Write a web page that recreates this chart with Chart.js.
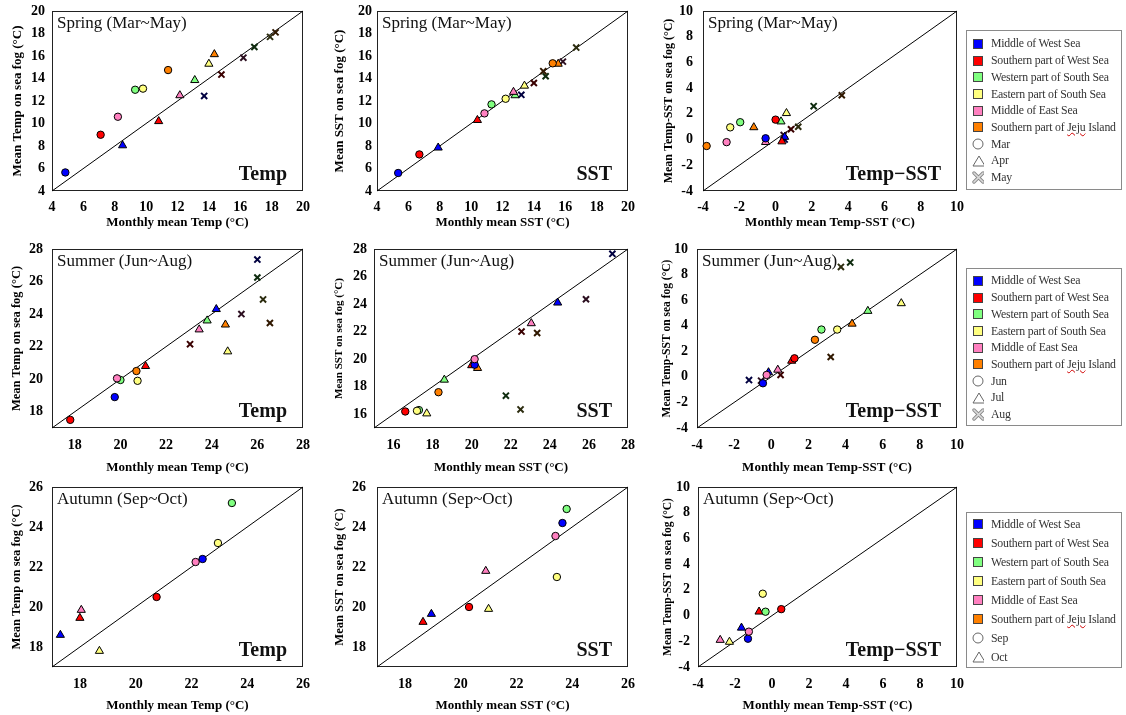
<!DOCTYPE html>
<html>
<head>
<meta charset="utf-8">
<script src="https://cdn.jsdelivr.net/npm/chart.js@4.4.1/dist/chart.umd.min.js"></script>
<style>
  body { margin: 0; width: 1126px; height: 715px; background: #fff; position: relative; overflow: hidden; }
  canvas.panel { position: absolute; }
  .legend { position: absolute; left: 966px; width: 156px; border: 1px solid #8a8a8a; box-sizing: border-box;
    font-family: 'Times New Roman', 'Liberation Serif', serif; font-size: 11.8px; color: #333; }
  .legend .row { display: flex; align-items: center; white-space: nowrap; letter-spacing: -0.2px; }
  .legend .sym { width: 12px; height: 12px; margin: 0 7px 0 5px; flex: none; display: flex; align-items: center; justify-content: center; }
  .legend .sq { width: 10px; height: 10px; border: 1px solid #444; box-sizing: border-box; }
  .legend .typo { text-decoration: underline wavy #d00000; text-decoration-thickness: 1px; }
</style>
</head>
<body>
<div id="charts"></div>
<div class="legend" id="legend-spring" style="top:30px;height:160px;padding-top:4.6px"></div>
<div class="legend" id="legend-summer" style="top:268px;height:158px;padding-top:3.6px"></div>
<div class="legend" id="legend-autumn" style="top:512px;height:156px;padding-top:1.5px"></div>
<script>
const SERIF = "'Times New Roman', 'Liberation Serif', serif";

const REGIONS = ['Middle of West Sea', 'Southern part of West Sea', 'Western part of South Sea',
  'Eastern part of South Sea', 'Middle of East Sea', 'Southern part of Jeju Island'];
const REGION_FILL = ['#0000ff', '#ff0000', '#80ff80', '#ffff80', '#ff80c0', '#ff8000'];
const REGION_CROSS = ['#000040', '#3a0000', '#0f2c0f', '#2c2c0f', '#2c0f20', '#301800'];
const MONTH_STYLE = ['circle', 'triangle', 'crossRot'];

const SPRING_MONTHS = ['Mar', 'Apr', 'May'];
const SUMMER_MONTHS = ['Jun', 'Jul', 'Aug'];
const AUTUMN_MONTHS = ['Sep', 'Oct'];

// axis ranges and tick labels
const springRange = [4, 20];
const springTicks = [4, 6, 8, 10, 12, 14, 16, 18, 20];
const diffRange = [-4, 10];
const diffTicks = [-4, -2, 0, 2, 4, 6, 8, 10];
const summerTempRange = [17, 28];
const summerTempTicks = [18, 20, 22, 24, 26, 28];
const summerSstRange = [15, 28];
const summerSstTicks = [16, 18, 20, 22, 24, 26, 28];
const autumnRange = [17, 26];
const autumnTicks = [18, 20, 22, 24, 26];

// [monthly mean, mean on sea fog] per region, REGIONS order; null = no case
const springTempMar = [[4.85, 5.65], [7.1, 9.0], [9.3, 13.0], [9.8, 13.1], [8.2, 10.6], [11.4, 14.75]];
const springTempApr = [[8.5, 8.05], [10.8, 10.2], [13.1, 13.85], [14.0, 15.3], [12.15, 12.5], [14.35, 16.15]];
const springTempMay = [[13.7, 12.45], [14.8, 14.35], [16.9, 16.8], [17.9, 17.7], [16.2, 15.85], [18.25, 18.1]];

const springSstMar = [[5.35, 5.6], [6.7, 7.25], [11.3, 11.7], [12.2, 12.2], [10.85, 10.9], [15.2, 15.35]];
const springSstApr = [[7.9, 7.85], [10.4, 10.3], [12.8, 12.5], [13.4, 13.35], [12.7, 12.8], [15.55, 15.3]];
const springSstMay = [[13.2, 12.55], [14.0, 13.6], [14.75, 14.2], [16.7, 16.75], [15.85, 15.5], [14.6, 14.65]];

const springDiffMar = [[-0.55, 0.1], [0.0, 1.55], [-1.95, 1.35], [-2.5, 0.95], [-2.7, -0.2], [-3.8, -0.5]];
const springDiffApr = [[0.5, 0.2], [0.35, -0.15], [0.3, 1.4], [0.6, 2.05], [-0.55, -0.2], [-1.2, 0.95]];
const springDiffMay = [[0.5, 0.0], [0.85, 0.8], [2.1, 2.6], [1.25, 1.0], [0.45, 0.35], [3.65, 3.45]];

const summerTempJun = [[19.75, 18.9], [17.8, 17.5], [20.0, 19.95], [20.75, 19.9], [19.85, 20.05], [20.7, 20.5]];
const summerTempJul = [[24.2, 24.3], [21.1, 20.8], [23.8, 23.6], [24.7, 21.7], [23.45, 23.05], [24.6, 23.35]];
const summerTempAug = [[26.0, 27.35], [23.05, 22.15], [26.0, 26.25], [26.25, 24.9], [25.3, 24.0], [26.55, 23.45]];

const summerSstJun = [[20.15, 19.6], [16.6, 16.2], [17.3, 16.3], [17.2, 16.25], [20.15, 20.0], [18.3, 17.6]];
const summerSstJul = [[24.4, 24.1], [20.0, 19.55], [18.6, 18.5], [17.7, 16.05], [23.05, 22.6], [20.3, 19.35]];
const summerSstAug = [[27.2, 27.65], [22.55, 22.0], [21.75, 17.35], [22.5, 16.35], [25.85, 24.35], [23.35, 21.9]];

const summerDiffJun = [[-0.45, -0.5], [1.25, 1.45], [2.7, 3.7], [3.55, 3.7], [-0.25, 0.15], [2.35, 2.9]];
const summerDiffJul = [[-0.15, 0.35], [1.1, 1.25], [5.2, 5.15], [7.0, 5.75], [0.35, 0.55], [4.35, 4.15]];
const summerDiffAug = [[-1.2, -0.25], [0.5, 0.15], [4.25, 8.95], [3.75, 8.6], [-0.55, -0.3], [3.2, 1.55]];

const autumnTempSep = [[22.4, 22.4], [20.75, 20.5], [23.45, 25.2], [22.95, 23.2], [22.15, 22.25], null];
const autumnTempOct = [[17.3, 18.6], [18.0, 19.45], null, [18.7, 17.8], [18.05, 19.85], null];

const autumnSstSep = [[23.65, 24.2], [20.3, 20.0], [23.8, 24.9], [23.45, 21.5], [23.4, 23.55], null];
const autumnSstOct = [[18.95, 19.65], [18.65, 19.25], null, [21.0, 19.9], [20.9, 21.8], null];

const autumnDiffSep = [[-1.3, -1.8], [0.5, 0.5], [-0.35, 0.3], [-0.5, 1.7], [-1.25, -1.25], null];
const autumnDiffOct = [[-1.65, -0.95], [-0.7, 0.3], null, [-2.3, -2.05], [-2.8, -1.9], null];

const X_TITLES = ['Monthly mean Temp (°C)', 'Monthly mean SST (°C)', 'Monthly mean Temp-SST (°C)'];
const Y_TITLES = ['Mean Temp on sea fog (°C)', 'Mean SST on sea fog (°C)', 'Mean Temp-SST on sea fog (°C)'];
const TAGS = ['Temp', 'SST', 'Temp\u2212SST'];
const SEASONS = ['Spring (Mar~May)', 'Summer (Jun~Aug)', 'Autumn (Sep~Oct)'];

// layout of each panel: plot box [left, top, right, bottom] in page pixels
const PANELS = [
  { row: 0, col: 0, sets: [springTempMar, springTempApr, springTempMay], range: springRange, ticks: springTicks,
    plot: [52, 11, 303, 191], yTitleX: 17.5, yTitleSize: 13, yTickRight: 45 },
  { row: 0, col: 1, sets: [springSstMar, springSstApr, springSstMay], range: springRange, ticks: springTicks,
    plot: [377, 11, 628, 191], yTitleX: 340, yTitleSize: 13, yTickRight: 372 },
  { row: 0, col: 2, sets: [springDiffMar, springDiffApr, springDiffMay], range: diffRange, ticks: diffTicks,
    plot: [703, 11, 957, 191], yTitleX: 669, yTitleSize: 12, yTickRight: 693 },
  { row: 1, col: 0, sets: [summerTempJun, summerTempJul, summerTempAug], range: summerTempRange, ticks: summerTempTicks,
    plot: [52, 249, 303, 428], yTitleX: 17, yTitleSize: 12.5, yTickRight: 43 },
  { row: 1, col: 1, sets: [summerSstJun, summerSstJul, summerSstAug], range: summerSstRange, ticks: summerSstTicks,
    plot: [374, 249, 628, 428], yTitleX: 339, yTitleSize: 11, yTickRight: 367 },
  { row: 1, col: 2, sets: [summerDiffJun, summerDiffJul, summerDiffAug], range: diffRange, ticks: diffTicks,
    plot: [697, 249, 957, 428], yTitleX: 667, yTitleSize: 11.5, yTickRight: 688 },
  { row: 2, col: 0, sets: [autumnTempSep, autumnTempOct], range: autumnRange, ticks: autumnTicks,
    plot: [52, 487, 303, 667], yTitleX: 17, yTitleSize: 12.5, yTickRight: 43 },
  { row: 2, col: 1, sets: [autumnSstSep, autumnSstOct], range: autumnRange, ticks: autumnTicks,
    plot: [377, 487, 628, 667], yTitleX: 340, yTitleSize: 12.5, yTickRight: 366 },
  { row: 2, col: 2, sets: [autumnDiffSep, autumnDiffOct], range: diffRange, ticks: diffTicks,
    plot: [698, 487, 957, 667], yTitleX: 668, yTitleSize: 11.5, yTickRight: 690 }
];
const ROW_TICK_Y = [207, 445, 684];
const ROW_TITLE_Y = [222, 467, 705];
const COL_CANVAS_LEFT = [0, 326, 652];
// room kept above and right of each plot so tick-label overflow never moves the plot area
const EDGE = 24;

const panelDecor = {
  id: 'panelDecor',
  beforeDatasetsDraw(chart, args, opts) {
    const { ctx, chartArea: a } = chart;
    ctx.save();
    ctx.fillStyle = '#111';
    ctx.textBaseline = 'alphabetic';
    ctx.font = `17px ${SERIF}`;
    ctx.textAlign = 'left';
    ctx.fillText(opts.season, a.left + 5, a.top + 17);
    ctx.font = `bold 20px ${SERIF}`;
    ctx.textAlign = 'right';
    ctx.fillText(opts.tag, a.right - 16, a.bottom - 11.5);
    ctx.strokeStyle = '#222';
    ctx.lineWidth = 1;
    ctx.strokeRect(a.left + 0.5, a.top + 0.5, a.right - a.left - 1, a.bottom - a.top - 1);
    ctx.restore();
  }
};

function buildMonthDataset(points, monthIndex) {
  const rows = points.map((p, i) => (p ? { x: p[0], y: p[1], region: i } : null)).filter(Boolean);
  const style = MONTH_STYLE[monthIndex];
  const isCross = style === 'crossRot';
  return {
    data: rows,
    pointStyle: style,
    pointRadius: style === 'circle' ? 3.7 : style === 'triangle' ? 4.7 : 4.3,
    pointBorderWidth: isCross ? 2 : 1,
    pointBackgroundColor: rows.map((r) => REGION_FILL[r.region]),
    pointBorderColor: rows.map((r) => (isCross ? REGION_CROSS[r.region] : '#000')),
    showLine: false,
    clip: false,
    order: 1
  };
}

function makePanel(panel) {
  const [pl, pt, pr, pb] = panel.plot;
  const left = COL_CANVAS_LEFT[panel.col];
  const top = pt - EDGE;
  const titleLine = 13 * 1.2;
  const bottom = ROW_TITLE_Y[panel.row] + titleLine / 2 + 2;
  const width = pr + EDGE - left;
  const height = Math.round(bottom - top);

  const canvas = document.createElement('canvas');
  canvas.className = 'panel';
  canvas.width = width;
  canvas.height = height;
  canvas.style.left = left + 'px';
  canvas.style.top = top + 'px';
  document.getElementById('charts').appendChild(canvas);

  const [lo, hi] = panel.range;
  const datasets = panel.sets.map(buildMonthDataset);
  datasets.push({
    data: [{ x: lo, y: lo }, { x: hi, y: hi }],
    showLine: true,
    borderColor: '#000',
    borderWidth: 1,
    pointRadius: 0,
    clip: false,
    order: 10
  });

  const tickFont = { family: SERIF, size: 14, weight: 'bold' };
  const yWidth = pl - left;
  const xHeight = height - (pb - top);

  new Chart(canvas, {
    type: 'scatter',
    data: { datasets },
    options: {
      responsive: false,
      animation: false,
      devicePixelRatio: 1,
      layout: { padding: { top: EDGE, right: EDGE, left: 0, bottom: 0 } },
      plugins: {
        legend: { display: false },
        tooltip: { enabled: false },
        panelDecor: { season: SEASONS[panel.row], tag: TAGS[panel.col] }
      },
      scales: {
        x: {
          type: 'linear',
          min: lo,
          max: hi,
          afterBuildTicks: (s) => { s.ticks = panel.ticks.map((v) => ({ value: v })); },
          afterFit: (s) => { s.height = xHeight; },
          grid: { display: false, drawTicks: false },
          border: { display: false },
          ticks: { font: tickFont, color: '#000', padding: ROW_TICK_Y[panel.row] - pb - 8.4, maxRotation: 0, autoSkip: false },
          title: {
            display: true,
            text: X_TITLES[panel.col],
            color: '#000',
            font: { family: SERIF, size: 13, weight: 'bold' },
            padding: { top: 0, bottom: 2 }
          }
        },
        y: {
          type: 'linear',
          min: lo,
          max: hi,
          afterBuildTicks: (s) => { s.ticks = panel.ticks.map((v) => ({ value: v })); },
          afterFit: (s) => { s.width = yWidth; },
          grid: { display: false, drawTicks: false },
          border: { display: false },
          ticks: { font: tickFont, color: '#000', padding: pl - panel.yTickRight, autoSkip: false },
          title: {
            display: true,
            text: Y_TITLES[panel.col],
            color: '#000',
            font: { family: SERIF, size: panel.yTitleSize, weight: 'bold' },
            padding: { top: panel.yTitleX - left - panel.yTitleSize * 0.6, bottom: 0 }
          }
        }
      }
    },
    plugins: [panelDecor]
  });
}

PANELS.forEach(makePanel);

// legends
const SYMBOLS = {
  circle: '<svg width="12" height="12"><circle cx="6" cy="6" r="5" fill="none" stroke="#666" stroke-width="1"/></svg>',
  triangle: '<svg width="14" height="12"><polygon points="7,1 13,11 1,11" fill="none" stroke="#666" stroke-width="1"/></svg>',
  crossRot: '<svg width="13" height="13"><path d="M2 2 L11 11 M11 2 L2 11" stroke="#8a8a8a" stroke-width="3.4" stroke-linecap="round"/>' +
    '<path d="M2 2 L11 11 M11 2 L2 11" stroke="#dcdcdc" stroke-width="1.6" stroke-linecap="round"/></svg>'
};

function regionLabel(name) {
  return '<span>' + name.replace('Jeju', '<span class="typo">Jeju</span>') + '</span>';
}

function buildLegend(id, months, rowHeight) {
  const box = document.getElementById(id);
  const rows = REGIONS.map((name, i) =>
    `<div class="row" style="height:${rowHeight}px"><span class="sym"><span class="sq" style="background:${REGION_FILL[i]}"></span></span>${regionLabel(name)}</div>`);
  months.forEach((m, i) => {
    rows.push(`<div class="row" style="height:${rowHeight}px"><span class="sym">${SYMBOLS[MONTH_STYLE[i]]}</span><span>${m}</span></div>`);
  });
  box.innerHTML = rows.join('');
}

buildLegend('legend-spring', SPRING_MONTHS, 16.7);
buildLegend('legend-summer', SUMMER_MONTHS, 16.7);
buildLegend('legend-autumn', AUTUMN_MONTHS, 19);
</script>
</body>
</html>
